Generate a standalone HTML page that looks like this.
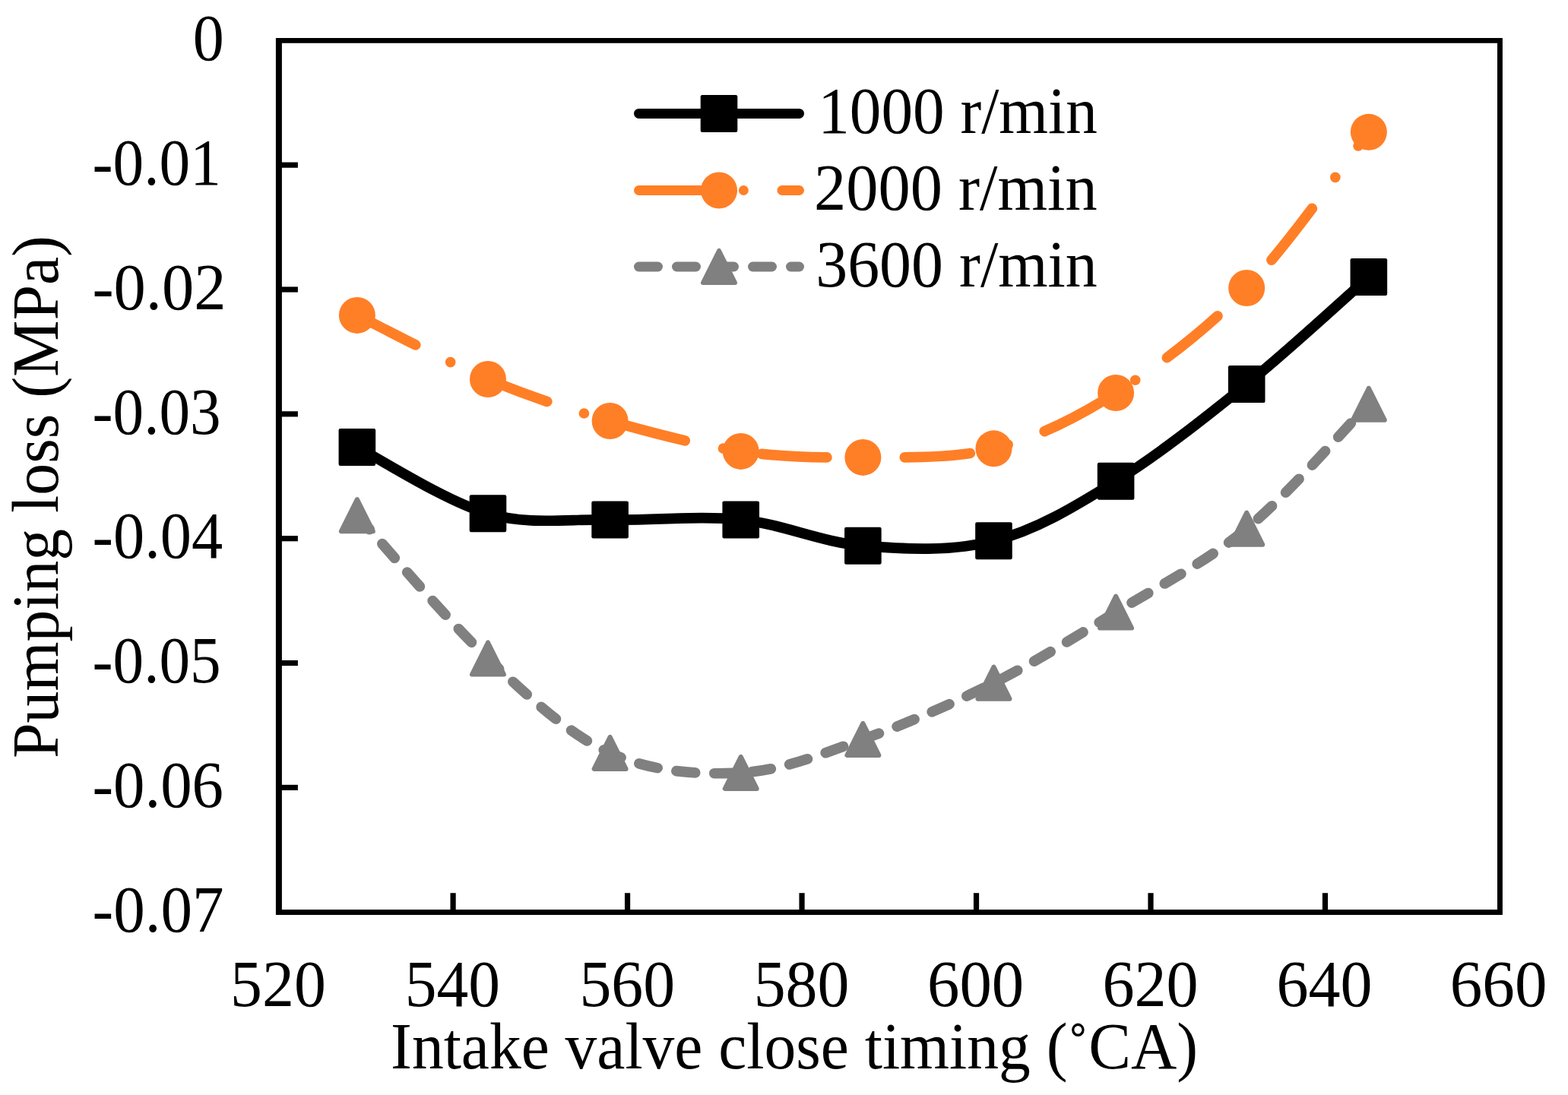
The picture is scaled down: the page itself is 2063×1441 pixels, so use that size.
<!DOCTYPE html>
<html><head><meta charset="utf-8"><title>Pumping loss chart</title>
<style>html,body{margin:0;padding:0;background:#fff;}body{width:2063px;height:1441px;overflow:hidden;}svg{display:block;}</style>
</head><body>
<svg width="2063" height="1441" viewBox="0 0 2063 1441">
<rect width="2063" height="1441" fill="#fff"/>
<path d="M362.90,50.06H370.90V1203.94H362.90Z M1970.00,50.06H1976.90V1203.94H1970.00Z M362.90,50.06H1976.90V56.86H362.90Z M362.90,1197.07H1976.90V1203.94H362.90Z" fill="#000"/>
<rect x="370" y="213.55" width="21.9" height="7.2" fill="#000"/>
<rect x="370" y="377.40" width="21.9" height="7.2" fill="#000"/>
<rect x="370" y="541.25" width="21.9" height="7.2" fill="#000"/>
<rect x="370" y="705.10" width="21.9" height="7.2" fill="#000"/>
<rect x="370" y="868.95" width="21.9" height="7.2" fill="#000"/>
<rect x="370" y="1032.80" width="21.9" height="7.2" fill="#000"/>
<rect x="592.48" y="1175.2" width="7.2" height="23" fill="#000"/>
<rect x="821.96" y="1175.2" width="7.2" height="23" fill="#000"/>
<rect x="1051.44" y="1175.2" width="7.2" height="23" fill="#000"/>
<rect x="1280.92" y="1175.2" width="7.2" height="23" fill="#000"/>
<rect x="1510.40" y="1175.2" width="7.2" height="23" fill="#000"/>
<rect x="1739.88" y="1175.2" width="7.2" height="23" fill="#000"/>
<g style="font-family:'Liberation Serif','Times New Roman',serif;font-size:86px" fill="#000">
<text transform="translate(253.84,79.00) scale(0.9541,1)">0</text>
<text transform="translate(121.46,242.85) scale(0.9456,1)">-0.01</text>
<text transform="translate(121.45,406.70) scale(0.9830,1)">-0.02</text>
<text transform="translate(121.57,570.55) scale(0.9445,1)">-0.03</text>
<text transform="translate(121.53,734.40) scale(0.9577,1)">-0.04</text>
<text transform="translate(121.57,898.25) scale(0.9445,1)">-0.05</text>
<text transform="translate(121.51,1062.10) scale(0.9632,1)">-0.06</text>
<text transform="translate(121.50,1225.95) scale(0.9661,1)">-0.07</text>
<text transform="translate(303.12,1324.00) scale(0.9752,1)">520</text>
<text transform="translate(532.64,1324.00) scale(0.9711,1)">540</text>
<text transform="translate(762.43,1324.00) scale(0.9744,1)">560</text>
<text transform="translate(991.73,1324.00) scale(0.9744,1)">580</text>
<text transform="translate(1220.06,1324.00) scale(0.9861,1)">600</text>
<text transform="translate(1450.39,1324.00) scale(0.9787,1)">620</text>
<text transform="translate(1679.49,1324.00) scale(0.9779,1)">640</text>
<text transform="translate(1907.84,1324.00) scale(0.9893,1)">660</text>
<text transform="translate(514.09,1405.60) scale(0.9711,1)">Intake valve close timing (<tspan dy="4.5">&#x2DA;</tspan><tspan dy="-4.5">CA)</tspan></text>
<text transform="translate(75.8,997.95) rotate(-90) scale(0.9728,1)">Pumping loss (MPa)</text>
</g>
<path d="M469.87,588.50 C498.55,603.05 586.52,659.90 641.98,675.80 C697.43,691.70 747.15,682.55 802.61,683.90 C858.07,685.25 919.26,678.18 974.72,683.90 C1030.18,689.62 1079.90,713.55 1135.36,718.20 C1190.82,722.85 1252.01,725.97 1307.47,711.80 C1362.93,697.63 1412.65,667.57 1468.10,633.20 C1523.56,598.83 1584.76,550.38 1640.21,505.60 C1695.67,460.82 1774.08,388.02 1800.85,364.50" fill="none" stroke="#000" stroke-width="13.7" stroke-linecap="round" stroke-linejoin="round"/>
<path d="M469.87,414.90 C498.55,428.92 586.52,475.82 641.98,499.00 C697.43,522.18 747.15,538.18 802.61,554.00 C858.07,569.82 919.26,585.92 974.72,593.90 C1030.18,601.88 1079.90,602.50 1135.36,601.90 C1190.82,601.30 1252.01,604.45 1307.47,590.30 C1362.93,576.15 1412.65,552.22 1468.10,517.00 C1523.56,481.78 1584.76,436.20 1640.21,379.00 C1695.67,321.80 1774.08,208.00 1800.85,173.80" fill="none" stroke="#FF7F27" stroke-width="13.7" stroke-linecap="round" stroke-linejoin="round" stroke-dasharray="86.22 51.17 0 51.17"/>
<path d="M469.87,678.20 C498.55,709.58 586.52,814.38 641.98,866.50 C697.43,918.62 747.15,965.83 802.61,990.90 C858.07,1015.97 919.26,1019.90 974.72,1016.90 C1030.18,1013.90 1079.90,992.60 1135.36,972.90 C1190.82,953.20 1252.01,926.58 1307.47,898.70 C1362.93,870.82 1412.65,839.43 1468.10,805.60 C1523.56,771.77 1584.76,741.33 1640.21,695.70 C1695.67,650.07 1774.08,559.12 1800.85,531.80" fill="none" stroke="#808080" stroke-width="13.7" stroke-linecap="round" stroke-linejoin="round" stroke-dasharray="24.90 25.10"/>
<polygon points="469.87,657.20 448.87,699.20 490.87,699.20" fill="#808080" stroke="#808080" stroke-width="6" stroke-linejoin="round"/>
<polygon points="641.98,845.50 620.98,887.50 662.98,887.50" fill="#808080" stroke="#808080" stroke-width="6" stroke-linejoin="round"/>
<polygon points="802.61,969.90 781.61,1011.90 823.61,1011.90" fill="#808080" stroke="#808080" stroke-width="6" stroke-linejoin="round"/>
<polygon points="974.72,995.90 953.72,1037.90 995.72,1037.90" fill="#808080" stroke="#808080" stroke-width="6" stroke-linejoin="round"/>
<polygon points="1135.36,951.90 1114.36,993.90 1156.36,993.90" fill="#808080" stroke="#808080" stroke-width="6" stroke-linejoin="round"/>
<polygon points="1307.47,877.70 1286.47,919.70 1328.47,919.70" fill="#808080" stroke="#808080" stroke-width="6" stroke-linejoin="round"/>
<polygon points="1468.10,784.60 1447.10,826.60 1489.10,826.60" fill="#808080" stroke="#808080" stroke-width="6" stroke-linejoin="round"/>
<polygon points="1640.21,674.70 1619.21,716.70 1661.21,716.70" fill="#808080" stroke="#808080" stroke-width="6" stroke-linejoin="round"/>
<polygon points="1800.85,510.80 1779.85,552.80 1821.85,552.80" fill="#808080" stroke="#808080" stroke-width="6" stroke-linejoin="round"/>
<rect x="445.57" y="564.00" width="48.6" height="49" rx="2.2" fill="#000"/>
<rect x="617.68" y="651.30" width="48.6" height="49" rx="2.2" fill="#000"/>
<rect x="778.31" y="659.40" width="48.6" height="49" rx="2.2" fill="#000"/>
<rect x="950.42" y="659.40" width="48.6" height="49" rx="2.2" fill="#000"/>
<rect x="1111.06" y="693.70" width="48.6" height="49" rx="2.2" fill="#000"/>
<rect x="1283.17" y="687.30" width="48.6" height="49" rx="2.2" fill="#000"/>
<rect x="1443.80" y="608.70" width="48.6" height="49" rx="2.2" fill="#000"/>
<rect x="1615.91" y="481.10" width="48.6" height="49" rx="2.2" fill="#000"/>
<rect x="1776.55" y="340.00" width="48.6" height="49" rx="2.2" fill="#000"/>
<circle cx="469.87" cy="414.90" r="24" fill="#FF7F27"/>
<circle cx="641.98" cy="499.00" r="24" fill="#FF7F27"/>
<circle cx="802.61" cy="554.00" r="24" fill="#FF7F27"/>
<circle cx="974.72" cy="593.90" r="24" fill="#FF7F27"/>
<circle cx="1135.36" cy="601.90" r="24" fill="#FF7F27"/>
<circle cx="1307.47" cy="590.30" r="24" fill="#FF7F27"/>
<circle cx="1468.10" cy="517.00" r="24" fill="#FF7F27"/>
<circle cx="1640.21" cy="379.00" r="24" fill="#FF7F27"/>
<circle cx="1800.85" cy="173.80" r="24" fill="#FF7F27"/>
<line x1="840.5" y1="149.45" x2="1051.5" y2="149.45" stroke="#000" stroke-width="13" stroke-linecap="round"/>
<line x1="840.5" y1="250.50" x2="1051.5" y2="250.50" stroke="#FF7F27" stroke-width="13" stroke-linecap="round" stroke-dasharray="87.24 50.59 0 50.59"/>
<line x1="840.5" y1="351.00" x2="1051.5" y2="351.00" stroke="#808080" stroke-width="13" stroke-linecap="round" stroke-dasharray="25 25"/>
<rect x="921.70" y="124.95" width="48.6" height="49" rx="2.2" fill="#000"/>
<circle cx="946.00" cy="250.50" r="24" fill="#FF7F27"/>
<polygon points="946.00,330.00 925.00,372.00 967.00,372.00" fill="#808080" stroke="#808080" stroke-width="6" stroke-linejoin="round"/>
<g style="font-family:'Liberation Serif','Times New Roman',serif;font-size:86px" fill="#000">
<text transform="translate(1076.26,175.20) scale(0.9676,1)">1000 r/min</text>
<text transform="translate(1071.07,276.00) scale(0.9813,1)">2000 r/min</text>
<text transform="translate(1073.20,376.60) scale(0.9757,1)">3600 r/min</text>
</g>
</svg>
</body></html>
